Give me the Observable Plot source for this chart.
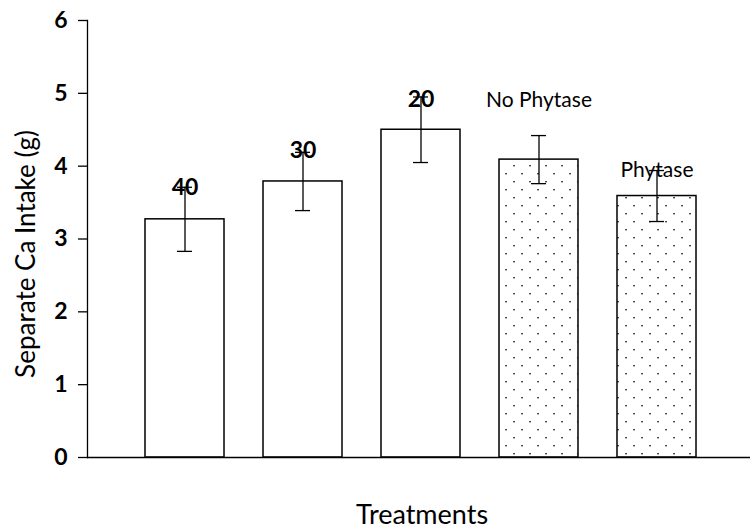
<!DOCTYPE html>
<html><head><meta charset="utf-8">
<script src="https://cdn.jsdelivr.net/npm/d3@7"></script>
<script src="https://cdn.jsdelivr.net/npm/@observablehq/plot@0.6"></script>
<style>body{margin:0;background:#fff;}</style>
</head><body><div id="chart"></div>
<script>
const treatments = ["40", "30", "20", "No Phytase", "Phytase"];
const means = [3.27, 3.79, 4.50, 4.09, 3.59];
const errors = [0.44, 0.40, 0.45, 0.33, 0.35];
const dotted = [false, false, false, true, true];
const boldLabel = [true, true, true, false, false];
const labelY = [3.70, 4.21, 4.91, 4.91, 3.95];
const yTicks = [0, 1, 2, 3, 4, 5, 6];
const yLabel = "Separate Ca Intake (g)";
const xLabel = "Treatments";

const data = treatments.map((t, i) => ({
  t, mean: means[i], lo: means[i] - errors[i], hi: means[i] + errors[i],
  dotted: dotted[i], bold: boldLabel[i], ly: labelY[i]
}));

const font = "Lato, 'Open Sans', sans-serif";
const chart = Plot.plot({
  width: 750, height: 532,
  marginLeft: 87, marginRight: 0, marginTop: 20, marginBottom: 75,
  style: {fontFamily: font, background: "white", color: "black"},
  x: {domain: treatments, range: [124.5, 717], paddingInner: 0.333, paddingOuter: 0.1667, axis: null},
  y: {domain: [0, 6], axis: null},
  marks: [
    Plot.barY(data.filter(d => !d.dotted), {x: "t", y: "mean", fill: "white", stroke: "black", strokeWidth: 1.5}),
    Plot.barY(data.filter(d => d.dotted), {x: "t", y: "mean", fill: "url(#dots)", stroke: "black", strokeWidth: 1.5}),
    Plot.ruleX(data, {x: "t", y1: "lo", y2: "hi", strokeWidth: 1.3}),
    Plot.tickY(data, {x: "t", y: "lo", insetLeft: 32, insetRight: 32, strokeWidth: 1.3}),
    Plot.tickY(data, {x: "t", y: "hi", insetLeft: 32, insetRight: 32, strokeWidth: 1.3}),
    Plot.ruleY([0], {strokeWidth: 1.3}),
    Plot.axisY({ticks: yTicks, tickSize: 9, tickPadding: 11, fontSize: 23, fontWeight: "bold", tickFormat: d => String(d), label: null, strokeWidth: 1.3}),
    Plot.frame({anchor: "left", strokeWidth: 1.3}),
    Plot.text(data.filter(d => d.bold), {x: "t", y: "ly", text: "t", fontSize: 23, fontWeight: "bold"}),
    Plot.text(data.filter(d => !d.bold), {x: "t", y: "ly", text: "t", fontSize: 21, letterSpacing: "1.2px"}),
    Plot.text([yLabel], {text: d => d, frameAnchor: "left", textAnchor: "middle", rotate: -90, dx: -61, dy: 15, fontSize: 26, letterSpacing: "1px"}),
    Plot.text([xLabel], {text: d => d, frameAnchor: "bottom", textAnchor: "middle", dx: 3, dy: 66, fontSize: 27, letterSpacing: "1.2px"})
  ]
});

// dotted fill pattern
const ns = "http://www.w3.org/2000/svg";
const defs = document.createElementNS(ns, "defs");
const pat = document.createElementNS(ns, "pattern");
pat.setAttribute("id", "dots");
pat.setAttribute("patternUnits", "userSpaceOnUse");
pat.setAttribute("width", 16);
pat.setAttribute("height", 16);
const bg = document.createElementNS(ns, "rect");
bg.setAttribute("width", 16); bg.setAttribute("height", 16); bg.setAttribute("fill", "white");
pat.appendChild(bg);
[[1.3, 5], [9.3, 13]].forEach(([px, py]) => {
  const r = document.createElementNS(ns, "rect");
  r.setAttribute("x", px); r.setAttribute("y", py);
  r.setAttribute("width", 1.4); r.setAttribute("height", 1.4);
  r.setAttribute("fill", "black");
  pat.appendChild(r);
});
defs.appendChild(pat);
chart.insertBefore(defs, chart.firstChild);
document.getElementById("chart").appendChild(chart);
</script>
</body></html>
